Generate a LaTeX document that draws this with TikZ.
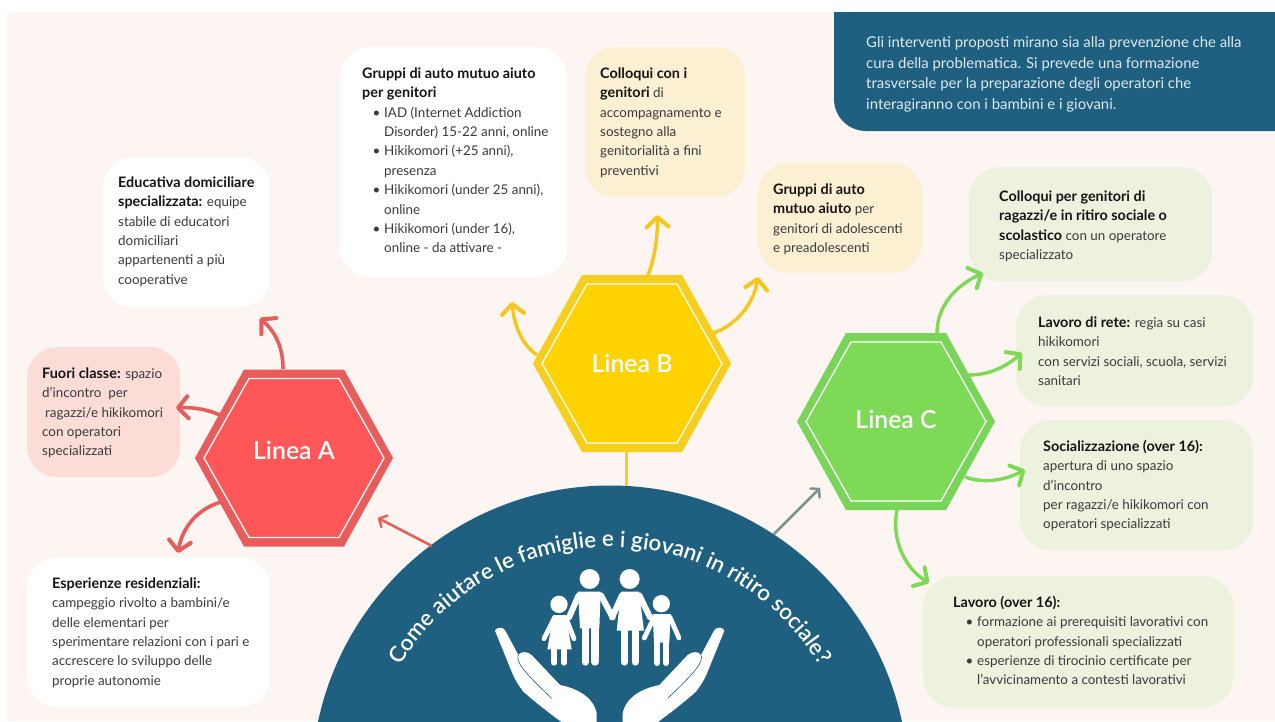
\documentclass[tikz,border=0pt]{standalone}
\usepackage{fontspec}
\setmainfont[BoldFeatures={Scale=1.075}]{Lato}
\newfontfamily\headfont{Lato Semibold}
\usetikzlibrary{arrows.meta,decorations.text}
\definecolor{pagebg}{HTML}{FDF5F2}
\definecolor{hubblue}{HTML}{1F5F80}
\definecolor{redfill}{HTML}{FF5757}
\definecolor{redout}{HTML}{E85C5C}
\definecolor{yelfill}{HTML}{FFD200}
\definecolor{yelout}{HTML}{F6CE1E}
\definecolor{grnfill}{HTML}{7ED957}
\definecolor{grnout}{HTML}{79D45A}
\definecolor{boxrose}{HTML}{FBDCD7}
\definecolor{boxcream}{HTML}{FCF0D3}
\definecolor{boxgreen}{HTML}{EDF2DF}
\definecolor{inktext}{HTML}{3A3A3A}
\definecolor{inkbold}{HTML}{141414}
\definecolor{arrowgrey}{HTML}{7F9490}
\definecolor{noteink}{HTML}{DCE9EE}
\tikzset{
  boxnode/.style={rounded corners=30pt,draw=none,inner sep=0pt,anchor=north west},
  bodytext/.style={anchor=north west,inner sep=0pt,align=left,text=inktext,font=\fontsize{13.4}{19.4}\selectfont},
  hexlabel/.style={inner sep=0pt,text=white,font=\headfont\fontsize{24.8}{28}\selectfont},
  tipbarb/.style={-{Straight Barb[length=10pt,width=22pt,line width=4pt,round]}},
  arrowred/.style={tipbarb,draw=redout,line width=3.6pt},
  arrowyel/.style={tipbarb,draw=yelout!90!orange,line width=3.4pt},
  arrowgrn/.style={tipbarb,draw=grnfill,line width=3.4pt},
  hubarrow/.style={-{Straight Barb[length=6pt,width=13pt,line width=2.4pt,round]},line width=2.6pt},
  limb/.style={draw=white,line cap=round,line join=round},
}
\newcommand{\bx}[6]{\node[boxnode,fill=#6,minimum width={(#4-#2)*1pt},minimum height={(#5-#3)*1pt}] (#1) at (#2,#3) {};}
\newcommand{\tb}[4]{\node[bodytext] (#1) at (#2,#3-8.5) {\strut #4};}
\newcommand{\bd}[1]{\textcolor{inkbold}{\textbf{#1}}}
\newcommand{\bl}{\hspace*{10.5pt}\makebox[11.5pt][l]{•}}
\newcommand{\cn}{\hspace*{22pt}}
% name, cx, cy, fill, outer, label y, text
\newcommand{\hexa}[7]{%
  \fill[#5] (#2-99,#3) -- (#2-50,#3-88.5) -- (#2+50,#3-88.5) -- (#2+99,#3) -- (#2+50,#3+88.5) -- (#2-50,#3+88.5) -- cycle;
  \fill[#4,draw=white,line width=1.3pt] (#2-90,#3) -- (#2-45,#3-79.5) -- (#2+45,#3-79.5) -- (#2+90,#3) -- (#2+45,#3+79.5) -- (#2-45,#3+79.5) -- cycle;
  \node[hexlabel] (#1) at (#2,#6) {#7};}
\begin{document}
\begin{tikzpicture}[x=1pt,y=-1pt]
\useasboundingbox (0,0) rectangle (1275,721);
\fill[white] (0,0) rectangle (1275,721);
\fill[pagebg] (7,12) rectangle (1275,721);

% note box
\fill[hubblue] (834,12) -- (1275,12) -- (1275,131) -- (866,131) arc[start angle=90,end angle=180,radius=32] -- cycle;
\node[anchor=north west,inner sep=0pt,align=left,text=noteink,font=\fontsize{14.9}{20.5}\selectfont] (note) at (866,33)
 {\strut Gli interventi proposti mirano sia alla prevenzione che alla\\
  cura della problematica. Si prevede una formazione\\
  trasversale per la preparazione degli operatori che\\
  interagiranno con i bambini e i giovani.};

% boxes
\bx{edu}{103}{157}{270}{307}{white}
\bx{fuori}{27}{347}{180}{477}{boxrose}
\bx{esp}{27}{557}{270}{707}{white}
\bx{grup}{340}{47}{567}{277}{white}
\bx{coll}{585}{47}{745}{197}{boxcream}
\bx{auto}{758}{163}{922}{273}{boxcream}
\bx{cgen}{969}{167}{1212}{281}{boxgreen}
\bx{rete}{1016}{295}{1253}{406}{boxgreen}
\bx{soc}{1020}{420}{1253}{550}{boxgreen}
\bx{lav}{923}{576}{1233}{707}{boxgreen}

\tb{tedu}{118}{182}{\bd{Educativa domiciliare}\\\bd{specializzata:} equipe\\stabile di educatori\\domiciliari\\appartenenti a più\\cooperative}
\tb{tfuori}{42}{373}{\bd{Fuori classe:} spazio\\d'incontro\ \ per\\\hspace*{3pt}ragazzi/e hikikomori\\con operatori\\specializzati}
\tb{tesp}{52}{583}{\bd{Esperienze residenziali:}\\campeggio rivolto a bambini/e\\delle elementari per\\sperimentare relazioni con i pari e\\accrescere lo sviluppo delle\\proprie autonomie}
\tb{tgrup}{362}{73}{\bd{Gruppi di auto mutuo aiuto}\\\bd{per genitori}\\\bl IAD (Internet Addiction\\\cn Disorder) 15-22 anni, online\\\bl Hikikomori (+25 anni),\\\cn presenza\\\bl Hikikomori (under 25 anni),\\\cn online\\\bl Hikikomori (under 16),\\\cn online - da attivare -}
\tb{tcoll}{600}{73}{\bd{Colloqui con i}\\\bd{genitori} di\\accompagnamento e\\sostegno alla\\genitorialità a fini\\preventivi}
\tb{tauto}{773}{189}{\bd{Gruppi di auto}\\\bd{mutuo aiuto} per\\genitori di adolescenti\\e preadolescenti}
\tb{tcgen}{999}{196}{\bd{Colloqui per genitori di}\\\bd{ragazzi/e in ritiro sociale o}\\\bd{scolastico} con un operatore\\specializzato}
\tb{trete}{1038}{322}{\bd{Lavoro di rete:} regia su casi\\hikikomori\\con servizi sociali, scuola, servizi\\sanitari}
\tb{tsoc}{1043}{446}{\bd{Socializzazione (over 16):}\\apertura di uno spazio\\d'incontro\\per ragazzi/e hikikomori con\\operatori specializzati}
\tb{tlav}{953}{602}{\bd{Lavoro (over 16):}\\\hspace*{2pt}\bl formazione ai prerequisiti lavorativi con\\\hspace*{2pt}\cn operatori professionali specializzati\\\hspace*{2pt}\bl esperienze di tirocinio certificate per\\\hspace*{2pt}\cn l'avvicinamento a contesti lavorativi}

% hub
\node[circle,fill=hubblue,minimum size=597pt,inner sep=0pt] (hub) at (610,784) {};
\path[decorate,decoration={text along path,text align=center,
  text={|\headfont\fontsize{22.3}{26}\selectfont\color{white}|Come aiutare le famiglie e i giovani in ritiro sociale?}}]
  (392.6,680.2) arc[start angle=-153,end angle=-27,radius=244];

% family, in 3x zoom units
\begin{scope}[shift={(480,560)},scale=1/3]
  \fill[white] (237,133) circle (26) (329,57) circle (30) (449,57) circle (30) (544,131) circle (26);
  % father
  \fill[white] (294,95) -- (362,95) -- (358,205) -- (300,205) -- cycle;
  \draw[limb,line width=6pt] (296,106) -- (267,172) (363,106) -- (398,172);
  \draw[limb,line width=7.4pt] (316,200) -- (316,306) (345,200) -- (345,306);
  % mother
  \fill[white] (423,95) -- (477,95) -- (492,212) -- (410,212) -- cycle;
  \draw[limb,line width=6pt] (426,106) -- (396,172) (478,106) -- (510,172);
  \draw[limb,line width=7.4pt] (434,205) -- (434,306) (466,205) -- (466,306);
  % girl
  \fill[white] (220,165) -- (257,165) -- (275,268) -- (202,268) -- cycle;
  \draw[limb,line width=4.8pt] (224,172) -- (192,236) (257,172) -- (282,236);
  \draw[limb,line width=6pt] (223,262) -- (223,308) (252,262) -- (252,308);
  % boy
  \fill[white] (518,162) -- (572,162) -- (568,248) -- (522,248) -- cycle;
  \draw[limb,line width=4.8pt] (522,172) -- (493,234) (570,172) -- (597,234);
  \draw[limb,line width=6.8pt] (531,240) -- (531,308) (558,240) -- (558,308);
\end{scope}
% hands
\foreach \hand/\flip/\ox in {handL/1/480,handR/-1/739.33}{
\begin{scope}[shift={(\ox,560)},xscale=\flip/3,yscale=1/3]
  \fill[white] (45,212) .. controls (48,202) and (68,198) .. (76,212) -- (115,285)
    .. controls (120,275) and (140,272) .. (155,285) -- (240,375)
    .. controls (290,385) and (340,410) .. (350,460) -- (350,490) -- (250,490)
    .. controls (215,465) and (170,430) .. (130,395) .. controls (115,375) and (105,360) .. (95,335) -- cycle;
  \draw[hubblue,line width=.6pt] (115,285) .. controls (108,305) and (125,330) .. (215,415);
\end{scope}}

% hexagons
\hexa{lineaA}{294}{458}{redfill}{redout}{450}{Linea A}
\hexa{lineaB}{632}{363.5}{yelfill}{yelout}{363}{Linea B}
\hexa{lineaC}{896}{421.5}{grnfill}{grnout}{419}{Linea C}

% connector ends
\coordinate (aTopS) at (283,369);   \coordinate (aTopE) at (260,318);
\coordinate (aLeftS) at (220,415);  \coordinate (aLeftE) at (176,408);
\coordinate (aLowS) at (221,502);   \coordinate (aLowE) at (178,553);
\coordinate (hubAS) at (432,546);   \coordinate (hubAE) at (378,518);
\coordinate (bUpS) at (648,275);    \coordinate (bUpE) at (657,215);
\coordinate (bRightS) at (713,333); \coordinate (bRightE) at (758,277);
\coordinate (bLeftS) at (537,355);  \coordinate (bLeftE) at (512,302);
\coordinate (bDownS) at (626.5,452);\coordinate (bDownE) at (626.5,486);
\coordinate (cUpS) at (937,333);    \coordinate (cUpE) at (983,273);
\coordinate (cRightS) at (968,375); \coordinate (cRightE) at (1022,353);
\coordinate (cSocS) at (965,477);   \coordinate (cSocE) at (1025,470);
\coordinate (cLavS) at (897,510);   \coordinate (cLavE) at (929,583);
\coordinate (hubCS) at (774,534);   \coordinate (hubCE) at (820,488);

\draw[arrowred] (aTopS) .. controls (283,345) and (274,331) .. (aTopE);
\draw[arrowred] (aLeftS) .. controls (206,409) and (192,407) .. (aLeftE);
\draw[arrowred] (aLowS) .. controls (197,509) and (182,528) .. (aLowE);
\draw[hubarrow,draw=redout] (hubAS) -- (hubAE);
\draw[arrowyel] (bUpS) .. controls (655,257) and (658,235) .. (bUpE);
\draw[arrowyel] (bRightS) .. controls (736,326) and (754,303) .. (bRightE);
\draw[arrowyel] (bLeftS) .. controls (522,345) and (514,325) .. (bLeftE);
\draw[draw=yelout,line width=3pt] (bDownS) -- (bDownE);
\draw[arrowgrn] (cUpS) .. controls (937,305) and (957,285) .. (cUpE);
\draw[arrowgrn] (cRightS) .. controls (990,375) and (1005,367) .. (cRightE);
\draw[arrowgrn] (cSocS) .. controls (985,484) and (1005,480) .. (cSocE);
\draw[arrowgrn] (cLavS) .. controls (891,540) and (905,568) .. (cLavE);
\draw[hubarrow,draw=arrowgrey] (hubCS) -- (hubCE);
\end{tikzpicture}
\end{document}
